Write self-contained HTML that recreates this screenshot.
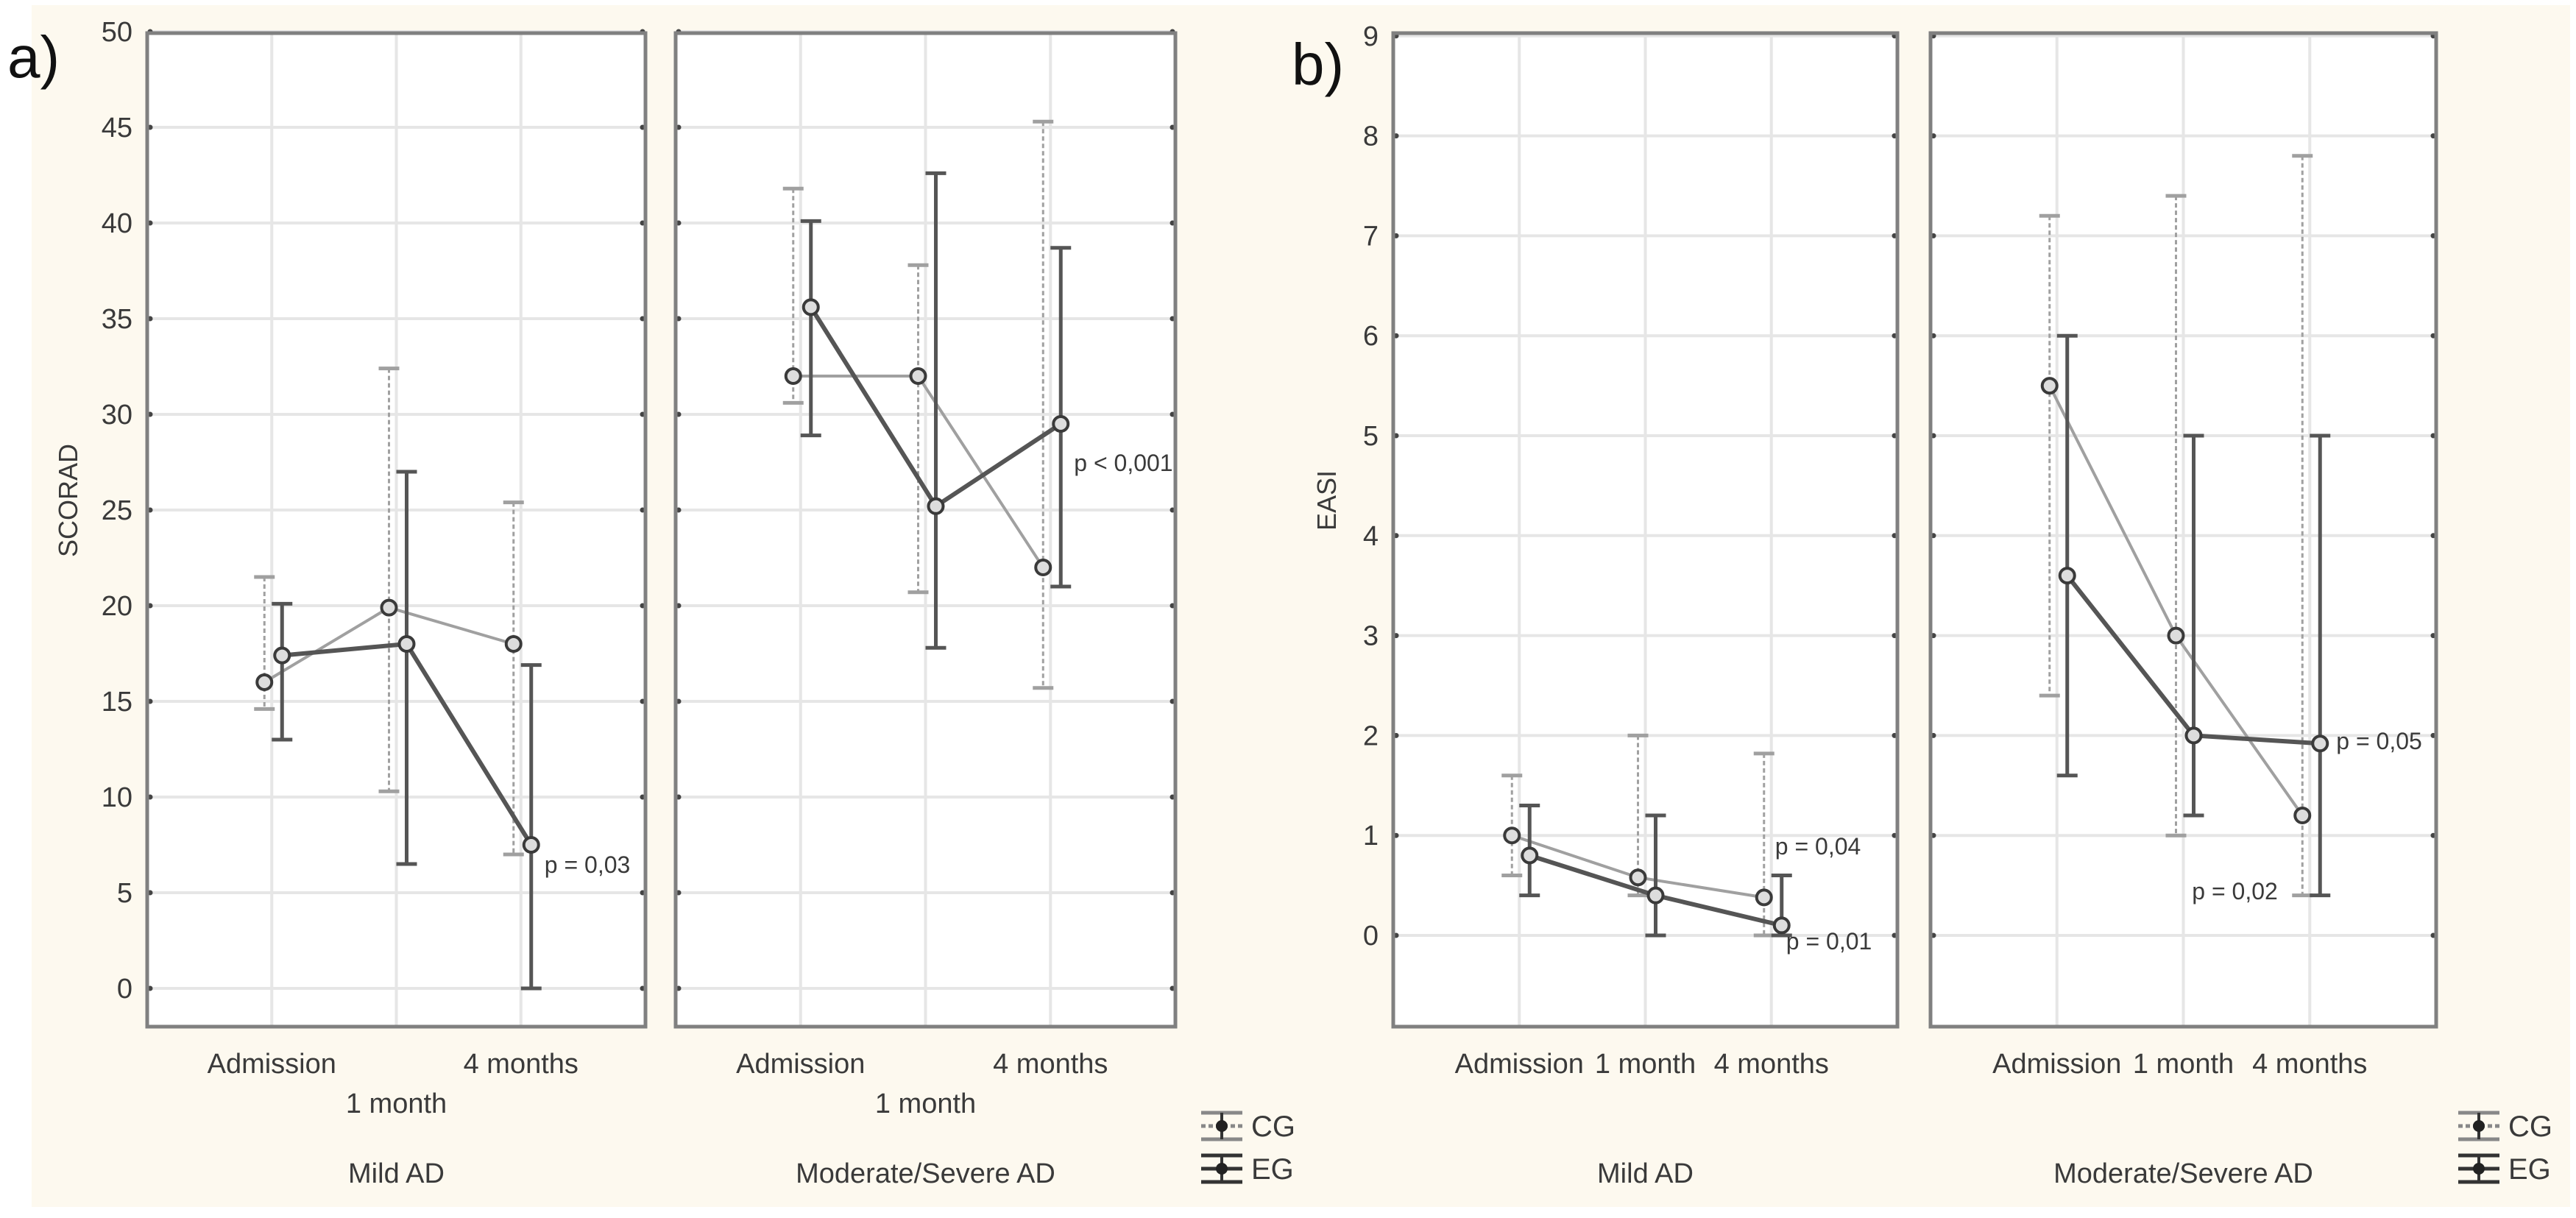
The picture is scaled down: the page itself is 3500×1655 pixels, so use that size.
<!DOCTYPE html>
<html><head><meta charset="utf-8">
<style>
html,body{margin:0;padding:0;background:#fff;}
svg{display:block;}
text{font-family:"Liberation Sans",Arial,sans-serif;fill:#3a3a3a;}
</style></head>
<body>
<svg id="chart" width="3500" height="1655" xmlns="http://www.w3.org/2000/svg">
<rect x="43" y="7" width="3449" height="1633" fill="#fdf9ef"/>
<text x="10" y="105" font-size="80" style="fill:#111">a)</text>
<text x="1755" y="115" font-size="80" style="fill:#111">b)</text>
<text x="0" y="0" font-size="36" text-anchor="middle" transform="translate(105,680) rotate(-90)">SCORAD</text>
<text x="0" y="0" font-size="36" text-anchor="middle" transform="translate(1815,680) rotate(-90)">EASI</text>
<g id="layer"></g>
</svg>
<script>
// ---- data ----
const timepoints = ["Admission","1 month","4 months"];
const groups = ["Mild AD","Moderate/Severe AD"];
const scoradTicks = [0,5,10,15,20,25,30,35,40,45,50];
const easiTicks = [0,1,2,3,4,5,6,7,8,9];
// SCORAD (a)
const aMildCG = [16, 19.9, 18];
const aMildCGLo = [14.6, 10.3, 7];
const aMildCGHi = [21.5, 32.4, 25.4];
const aMildEG = [17.4, 18, 7.5];
const aMildEGLo = [13, 6.5, 0];
const aMildEGHi = [20.1, 27, 16.9];
const aModCG = [32, 32, 22];
const aModCGLo = [30.6, 20.7, 15.7];
const aModCGHi = [41.8, 37.8, 45.3];
const aModEG = [35.6, 25.2, 29.5];
const aModEGLo = [28.9, 17.8, 21];
const aModEGHi = [40.1, 42.6, 38.7];
// EASI (b)
const bMildCG = [1.0, 0.58, 0.38];
const bMildCGLo = [0.6, 0.4, 0];
const bMildCGHi = [1.6, 2.0, 1.82];
const bMildEG = [0.8, 0.4, 0.1];
const bMildEGLo = [0.4, 0, 0];
const bMildEGHi = [1.3, 1.2, 0.6];
const bModCG = [5.5, 3.0, 1.2];
const bModCGLo = [2.4, 1.0, 0.4];
const bModCGHi = [7.2, 7.4, 7.8];
const bModEG = [3.6, 2.0, 1.92];
const bModEGLo = [1.6, 1.2, 0.4];
const bModEGHi = [6.0, 5.0, 5.0];
const legendLabels = ["CG","EG"];

const NS="http://www.w3.org/2000/svg";
const layer=document.getElementById('layer');
function mk(tag,attrs,parent){const e=document.createElementNS(NS,tag);for(const k in attrs)e.setAttribute(k,attrs[k]);(parent||layer).appendChild(e);return e;}

function panel(name,x0,x1,yTop,yBot,y0px,unitPx,ticks,showTicks,cg,cgLo,cgHi,eg,egLo,egHi,labelRows,groupName,notes){
  const y=v=>y0px-v*unitPx;
  const w=x1-x0;
  const xAt=i=>x0+w*(i+1)/4;
  const g=mk('g',{});
  
  
  const bg=mk('rect',{x:x0,y:yTop,width:w,height:yBot-yTop,fill:'#fff'},g);
  
  
  ticks.forEach(t=>{
    const l=mk('line',{x1:x0,x2:x1,y1:y(t),y2:y(t),stroke:'#e6e6e6','stroke-width':4},g);
    
    
    mk('circle',{cx:x0+4,cy:y(t),r:3.5,fill:'#444'},g);
    mk('circle',{cx:x1-4,cy:y(t),r:3.5,fill:'#444'},g);
    if(showTicks){
      const tx=mk('text',{x:x0-20,y:y(t)+13,'font-size':38,'text-anchor':'end'},g);
      tx.textContent=t;
      
      
    }
  });
  timepoints.forEach((tp,i)=>{
    const l=mk('line',{x1:xAt(i),x2:xAt(i),y1:yTop,y2:yBot,stroke:'#e6e6e6','stroke-width':4},g);
    
    
    const tx=mk('text',{x:xAt(i),y:labelRows[i],'font-size':38,'text-anchor':'middle'},g);
    tx.textContent=tp;
    
    
  });
  const gl=mk('text',{x:(x0+x1)/2,y:1607,'font-size':38,'text-anchor':'middle'},g);
  gl.textContent=groupName;
  
  
  const frame=mk('rect',{x:x0,y:yTop,width:w,height:yBot-yTop,fill:'none',stroke:'#808080','stroke-width':5},g);
  
  
  function series(vals,lo,hi,off,col,lw,dash,sname){
    const sg=mk('g',{},g);
    
    
    const pts=vals.map((v,i)=>(xAt(i)+off)+','+y(v)).join(' ');
    const pl=mk('polyline',{points:pts,fill:'none',stroke:col,'stroke-width':lw},sg);
    
    
    vals.forEach((v,i)=>{
      const cx=xAt(i)+off;
      const eb=mk('line',{x1:cx,x2:cx,y1:y(hi[i]),y2:y(lo[i]),stroke:col,'stroke-width':lw-1,'stroke-dasharray':dash},sg);
      
      
      mk('line',{x1:cx-14,x2:cx+14,y1:y(hi[i]),y2:y(hi[i]),stroke:col,'stroke-width':5},sg);
      mk('line',{x1:cx-14,x2:cx+14,y1:y(lo[i]),y2:y(lo[i]),stroke:col,'stroke-width':5},sg);
      const c=mk('circle',{cx:cx,cy:y(v),r:10,fill:'#ddd',stroke:'#3a3a3a','stroke-width':4},sg);
      
      
    });
  }
  series(cg,cgLo,cgHi,-10,'#a0a0a0',4,'6,4','cg-series');
  series(eg,egLo,egHi,14,'#555',6,'none','eg-series');
  notes.forEach(n=>{
    const t=mk('text',{x:xAt(n[0])+n[1],y:y(n[2])+12,'font-size':32},g);
    t.textContent=n[3];
    
    
  });
}
function legend(x,yc){
  const g=mk('g',{});
  
  
  legendLabels.forEach((lab,i)=>{
    const yy=yc+i*58;
    const col=i===0?'#888':'#333';
    mk('line',{x1:x,x2:x+56,y1:yy-18,y2:yy-18,stroke:col,'stroke-width':5},g);
    mk('line',{x1:x,x2:x+56,y1:yy,y2:yy,stroke:col,'stroke-width':5,'stroke-dasharray':i===0?'6,4':'none'},g);
    mk('line',{x1:x,x2:x+56,y1:yy+18,y2:yy+18,stroke:col,'stroke-width':5},g);
    mk('line',{x1:x+28,x2:x+28,y1:yy-18,y2:yy+18,stroke:'#333','stroke-width':4},g);
    mk('circle',{cx:x+28,cy:yy,r:8,fill:'#222'},g);
    const t=mk('text',{x:x+68,y:yy+14,'font-size':40},g);
    t.textContent=lab;
    
    
  });
}
const aRows=[1458,1512,1458], bRows=[1458,1458,1458];
panel('panel-a-mild',200,877,45,1395,1343,26,scoradTicks,true,aMildCG,aMildCGLo,aMildCGHi,aMildEG,aMildEGLo,aMildEGHi,aRows,groups[0],[[2,32,6.5,'p = 0,03']]);
panel('panel-a-moderate',918,1597,45,1395,1343,26,scoradTicks,false,aModCG,aModCGLo,aModCGHi,aModEG,aModEGLo,aModEGHi,aRows,groups[1],[[2,32,27.5,'p < 0,001']]);
panel('panel-b-mild',1893,2578,45,1395,1271,135.8,easiTicks,true,bMildCG,bMildCGLo,bMildCGHi,bMildEG,bMildEGLo,bMildEGHi,bRows,groups[0],[[2,5,0.9,'p = 0,04'],[2,20,-0.05,'p = 0,01']]);
panel('panel-b-moderate',2623,3310,45,1395,1271,135.8,easiTicks,false,bModCG,bModCGLo,bModCGHi,bModEG,bModEGLo,bModEGHi,bRows,groups[1],[[2,36,1.95,'p = 0,05'],[2,-160,0.45,'p = 0,02']]);
legend(1632,1530);
legend(3340,1530);
</script>
</body></html>
